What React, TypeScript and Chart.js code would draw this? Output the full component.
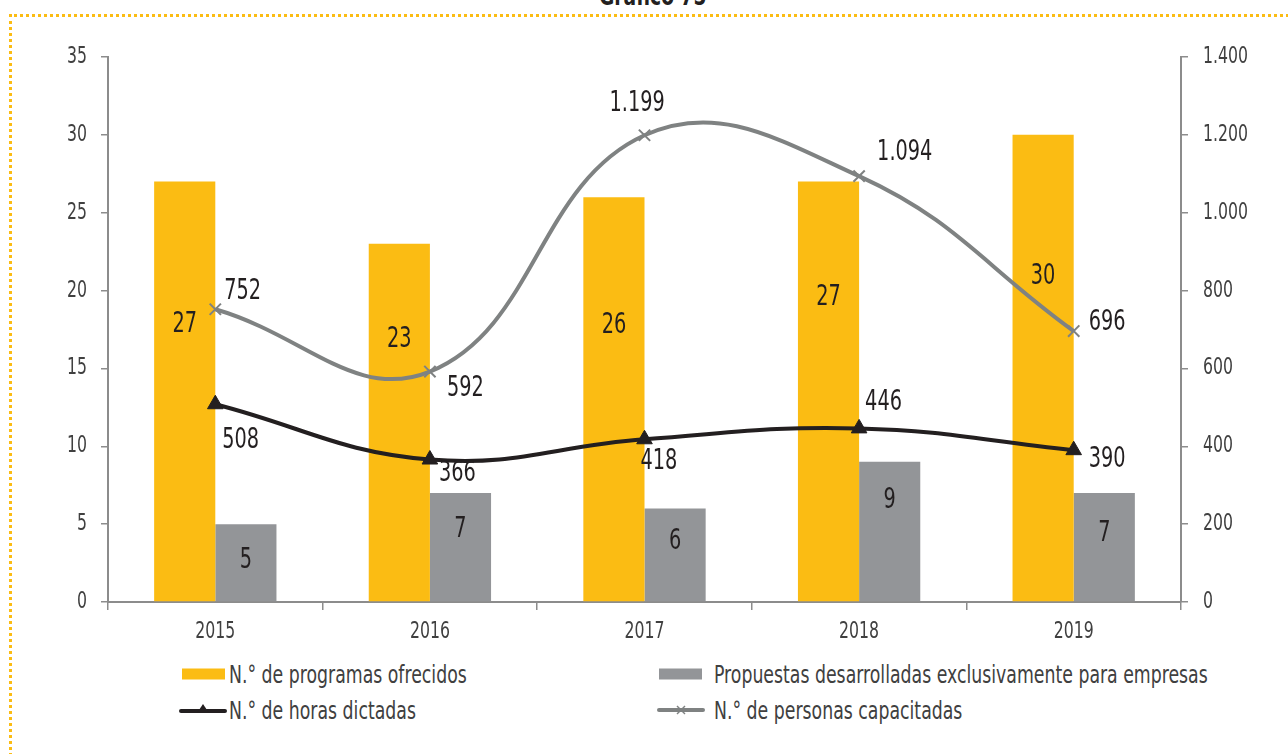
import React, { useEffect, useRef } from "react";
import { Chart, registerables } from "chart.js";

Chart.register(...registerables);

const years = ["2015", "2016", "2017", "2018", "2019"];
const programas = [27, 23, 26, 27, 30];
const propuestas = [5, 7, 6, 9, 7];
const horas = [508, 366, 418, 446, 390];
const personas = [752, 592, 1199, 1094, 696];
const leftTicks = [0, 5, 10, 15, 20, 25, 30, 35];
const rightTicks = [0, 200, 400, 600, 800, 1000, 1200, 1400];

const seriesNames = [
  "N.° de programas ofrecidos",
  "Propuestas desarrolladas exclusivamente para empresas",
  "N.° de horas dictadas",
  "N.° de personas capacitadas",
];

// label placement offsets (pixels), for readability like the original
const programasLabelDy = [143, 96, 128, 116, 142];
const propuestasLabelDy = [36, 36, 33, 39, 40];
const horasLabelOff = [[7, 36], [9, 14], [-4, 22], [6, -26], [15, 9]];
const personasLabelOff = [[9, -18], [17, 17], [-35, -32], [18, -24], [15, -9]];

const FONT = "'DejaVu Sans Condensed', 'DejaVu Sans', sans-serif";
const YELLOW = "#FBBC13";
const GRAYBAR = "#939598";
const LINEGRAY = "#7F8282";
const BLACK = "#231F20";
const AXIS = "#8C8C8C";
const TEXT = "#404040";
const SX = 0.74;

const fmt = (v: number) => String(v).replace(/\B(?=(\d{3})+(?!\d))/g, ".");

function drawText(ctx: any, text: string, x: number, y: number, align: string, size: number, color: string, sx = SX) {
  ctx.save();
  ctx.translate(x, y);
  ctx.scale(sx, 1);
  ctx.font = `${size}px ${FONT}`;
  ctx.fillStyle = color;
  ctx.textAlign = align;
  ctx.textBaseline = "middle";
  ctx.fillText(text, 0, 0);
  ctx.restore();
}

const labelPlugin = {
  id: "valueLabels",
  afterDatasetsDraw(chart: any) {
    const ctx = chart.ctx;
    const m0 = chart.getDatasetMeta(0);
    const m1 = chart.getDatasetMeta(1);
    const m2 = chart.getDatasetMeta(2);
    const m3 = chart.getDatasetMeta(3);
    m0.data.forEach((el: any, i: number) => {
      drawText(ctx, fmt(programas[i]), el.x, el.y + programasLabelDy[i], "center", 29, BLACK);
    });
    m1.data.forEach((el: any, i: number) => {
      drawText(ctx, fmt(propuestas[i]), el.x, el.y + propuestasLabelDy[i], "center", 29, BLACK);
    });
    m2.data.forEach((el: any, i: number) => {
      drawText(ctx, fmt(horas[i]), el.x + horasLabelOff[i][0], el.y + horasLabelOff[i][1], "left", 29, BLACK);
    });
    m3.data.forEach((el: any, i: number) => {
      drawText(ctx, fmt(personas[i]), el.x + personasLabelOff[i][0], el.y + personasLabelOff[i][1], "left", 29, BLACK);
    });

    // axis tick labels (condensed)
    const sx = chart.scales.x;
    const sy = chart.scales.y;
    const sy1 = chart.scales.y1;
    years.forEach((yr, i) => {
      drawText(ctx, yr, sx.getPixelForValue(i), sx.top + 30, "center", 23, TEXT, 0.76);
    });
    leftTicks.forEach((v) => {
      drawText(ctx, fmt(v), sy.right - 21, sy.getPixelForValue(v), "right", 23, TEXT, 0.76);
    });
    rightTicks.forEach((v) => {
      drawText(ctx, fmt(v), sy1.left + 22, sy1.getPixelForValue(v), "left", 23, TEXT, 0.76);
    });
  },
};

function LegendIcon({ kind }: { kind: number }) {
  if (kind === 0)
    return <div style={{ width: 43, height: 11, background: YELLOW }} />;
  if (kind === 1)
    return <div style={{ width: 43, height: 11, background: GRAYBAR }} />;
  if (kind === 2)
    return (
      <svg width={48} height={14}>
        <line x1={2} y1={8} x2={46} y2={8} stroke={BLACK} strokeWidth={4} strokeLinecap="round" />
        <polygon points="24,1 30,10 18,10" fill={BLACK} />
      </svg>
    );
  return (
    <svg width={48} height={14}>
      <line x1={2} y1={7} x2={46} y2={7} stroke={LINEGRAY} strokeWidth={4} strokeLinecap="round" />
      <line x1={20} y1={3} x2={28} y2={11} stroke={LINEGRAY} strokeWidth={1.5} />
      <line x1={28} y1={3} x2={20} y2={11} stroke={LINEGRAY} strokeWidth={1.5} />
    </svg>
  );
}

export default function App() {
  const ref = useRef<HTMLCanvasElement | null>(null);

  useEffect(() => {
    if (!ref.current) return;
    const chart = new Chart(ref.current, {
      type: "bar",
      data: {
        labels: years,
        datasets: [
          {
            type: "bar",
            label: seriesNames[0],
            data: programas,
            backgroundColor: YELLOW,
            yAxisID: "y",
            order: 2,
            barPercentage: 1,
            categoryPercentage: 0.57,
          },
          {
            type: "bar",
            label: seriesNames[1],
            data: propuestas,
            backgroundColor: GRAYBAR,
            yAxisID: "y",
            order: 2,
            barPercentage: 1,
            categoryPercentage: 0.57,
          },
          {
            type: "line",
            label: seriesNames[2],
            data: horas,
            borderColor: BLACK,
            backgroundColor: BLACK,
            borderWidth: 4,
            tension: 0.42,
            pointStyle: "triangle",
            pointRadius: 9,
            pointBorderWidth: 1,
            pointBackgroundColor: BLACK,
            pointBorderColor: BLACK,
            yAxisID: "y1",
            order: 1,
          } as any,
          {
            type: "line",
            label: seriesNames[3],
            data: personas,
            borderColor: LINEGRAY,
            backgroundColor: LINEGRAY,
            borderWidth: 4,
            tension: 0.42,
            pointStyle: "crossRot",
            pointRadius: 8,
            pointBorderWidth: 2,
            pointBorderColor: LINEGRAY,
            yAxisID: "y1",
            order: 0,
          } as any,
        ],
      },
      options: {
        animation: false,
        responsive: false,
        maintainAspectRatio: false,
        layout: { padding: { top: 57, left: 0, right: 0, bottom: 0 } },
        plugins: {
          legend: { display: false },
          title: { display: false },
          tooltip: { enabled: false },
        },
        scales: {
          x: {
            offset: true,
            grid: {
              offset: true,
              drawOnChartArea: false,
              drawTicks: true,
              tickLength: 8,
              color: AXIS,
              lineWidth: 1.5,
            },
            border: { display: true, color: AXIS, width: 2 },
            ticks: { display: false },
            afterFit: (s: any) => {
              s.height = 38;
            },
          },
          y: {
            position: "left",
            min: 0,
            max: 35,
            afterBuildTicks: (s: any) => {
              s.ticks = leftTicks.map((v) => ({ value: v }));
            },
            grid: {
              drawOnChartArea: false,
              drawTicks: true,
              tickLength: 7,
              color: AXIS,
              lineWidth: 1.5,
            },
            border: { display: true, color: AXIS, width: 2 },
            ticks: { display: false },
            afterFit: (s: any) => {
              s.width = 108;
            },
          },
          y1: {
            position: "right",
            min: 0,
            max: 1400,
            afterBuildTicks: (s: any) => {
              s.ticks = rightTicks.map((v) => ({ value: v }));
            },
            grid: {
              drawOnChartArea: false,
              drawTicks: true,
              tickLength: 7,
              color: AXIS,
              lineWidth: 1.5,
            },
            border: { display: true, color: AXIS, width: 2 },
            ticks: { display: false },
            afterFit: (s: any) => {
              s.width = 107;
            },
          },
        },
      } as any,
      plugins: [labelPlugin],
    });
    return () => chart.destroy();
  }, []);

  const legendPos = [
    { icon: 182, text: 229, y: 674 },
    { icon: 659, text: 714, y: 674 },
    { icon: 179, text: 229, y: 710 },
    { icon: 657, text: 714, y: 710 },
  ];

  return (
    <div
      style={{
        position: "fixed",
        left: 0,
        top: 0,
        width: 1288,
        height: 754,
        background: "#fff",
        overflow: "hidden",
        fontFamily: FONT,
      }}
    >
      <div
        style={{
          position: "absolute",
          left: 0,
          width: 1288,
          top: -19,
          textAlign: "center",
          fontWeight: "bold",
          fontSize: 26,
          color: BLACK,
          paddingLeft: 22,
          boxSizing: "border-box",
          transform: "scaleX(0.8)",
        }}
      >
        Gráfico 75
      </div>
      <div
        style={{
          position: "absolute",
          left: 9,
          top: 14,
          width: 1300,
          height: 800,
          borderTop: `3px dotted ${YELLOW}`,
          borderLeft: `3px dotted ${YELLOW}`,
        }}
      />
      <canvas
        ref={ref}
        width={1288}
        height={640}
        style={{ position: "absolute", left: 0, top: 0, width: 1288, height: 640 }}
      />
      {legendPos.map((p, i) => (
        <React.Fragment key={i}>
          <div
            style={{
              position: "absolute",
              left: p.icon,
              top: p.y,
              transform: "translateY(-50%)",
              display: "flex",
              alignItems: "center",
            }}
          >
            <LegendIcon kind={i} />
          </div>
          <div
            style={{
              position: "absolute",
              left: p.text,
              top: p.y,
              transform: "translateY(-50%) scaleX(0.77)",
              transformOrigin: "left center",
              fontSize: 25,
              color: TEXT,
              whiteSpace: "nowrap",
              lineHeight: 1,
            }}
          >
            {seriesNames[i]}
          </div>
        </React.Fragment>
      ))}
    </div>
  );
}
